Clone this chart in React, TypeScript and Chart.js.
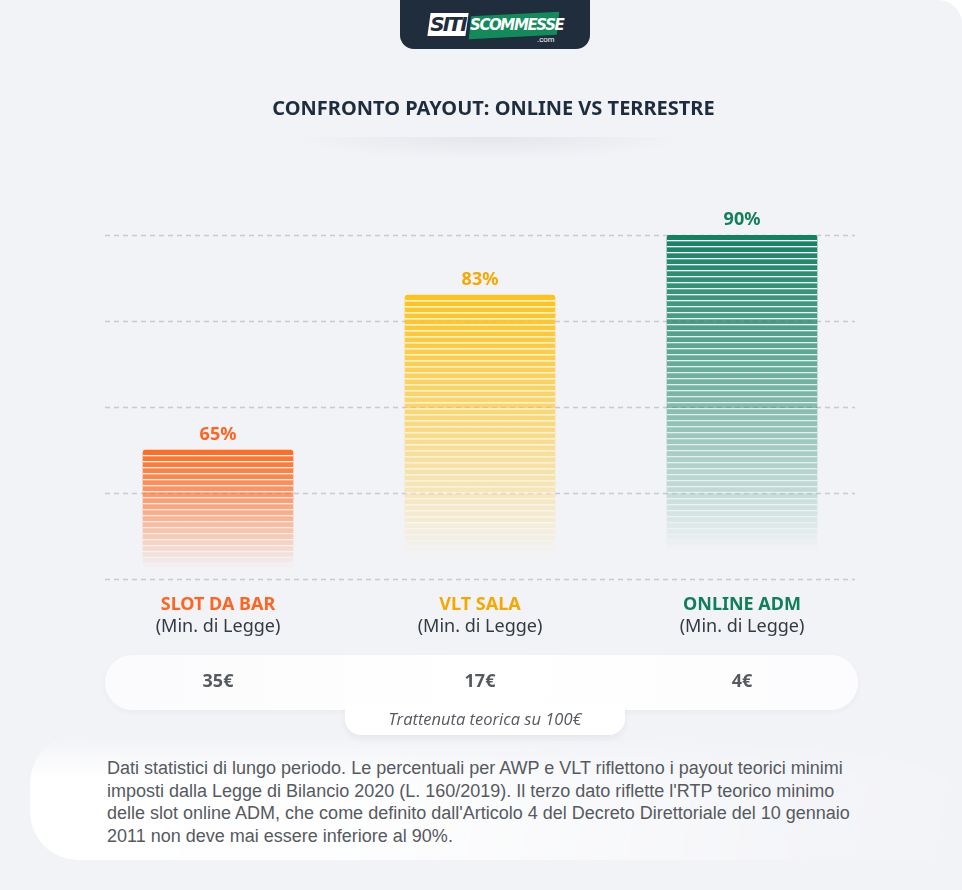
import React, { useEffect, useRef } from "react";
import { Chart, registerables } from "chart.js";

Chart.register(...registerables);

const categories = ["SLOT DA BAR", "VLT SALA", "ONLINE ADM"];
const subLabels = ["(Min. di Legge)", "(Min. di Legge)", "(Min. di Legge)"];
const payout = [65, 83, 90];
const retention = [35, 17, 4];
const barColors = ["#ff6a21", "#ffc21c", "#138060"];
const textColors = ["#ff6420", "#f5a800", "#11805a"];
const yMin = 50;
const yMax = 90;
const yStep = 10;

const title = "CONFRONTO PAYOUT: ONLINE VS TERRESTRE";
const retentionCaption = "Trattenuta teorica su 100€";
const footnote =
  "Dati statistici di lungo periodo. Le percentuali per AWP e VLT riflettono i payout teorici minimi imposti dalla Legge di Bilancio 2020 (L. 160/2019). Il terzo dato riflette l'RTP teorico minimo delle slot online ADM, che come definito dall'Articolo 4 del Decreto Direttoriale del 10 gennaio 2011 non deve mai essere inferiore al 90%.";

function rgba(hex: string, a: number) {
  const n = parseInt(hex.slice(1), 16);
  return `rgba(${(n >> 16) & 255},${(n >> 8) & 255},${n & 255},${a})`;
}

const FONT = "'Noto Sans', 'Open Sans', sans-serif";

const overlayPlugin = {
  id: "overlay",
  beforeDatasetsDraw(chart: any) {
    const { ctx, scales } = chart;
    const y = scales.y;
    ctx.save();
    ctx.strokeStyle = "rgba(150,155,165,0.45)";
    ctx.lineWidth = 1.5;
    ctx.setLineDash([5, 4]);
    y.ticks.forEach((t: any) => {
      const py = Math.round(y.getPixelForValue(t.value)) + 0.5;
      ctx.beginPath();
      ctx.moveTo(105, py);
      ctx.lineTo(855, py);
      ctx.stroke();
    });
    ctx.restore();
  },
  afterDatasetsDraw(chart: any) {
    const { ctx, scales, chartArea } = chart;
    const meta = chart.getDatasetMeta(0);
    ctx.save();
    meta.data.forEach((bar: any, i: number) => {
      const p = bar.getProps(["x", "y", "width", "base"], true);
      const left = p.x - p.width / 2;
      const bottom = Math.min(p.base, chartArea.bottom);
      const g = ctx.createLinearGradient(0, p.y, 0, bottom);
      g.addColorStop(0, "rgba(255,255,255,1)");
      g.addColorStop(0.8, "rgba(255,255,255,0.6)");
      g.addColorStop(0.95, "rgba(255,255,255,0)");
      ctx.fillStyle = g;
      for (let yy = p.y + 5; yy < bottom - 10; yy += 6) {
        ctx.fillRect(left, yy, p.width, 1.3);
      }
      ctx.fillStyle = textColors[i];
      ctx.font = `bold 18px ${FONT}`;
      ctx.textAlign = "center";
      ctx.textBaseline = "middle";
      ctx.fillText(`${payout[i]}%`, p.x, p.y - 15);
    });
    const x = scales.x;
    categories.forEach((c, i) => {
      const px = x.getPixelForValue(i);
      ctx.textAlign = "center";
      ctx.textBaseline = "middle";
      ctx.fillStyle = textColors[i];
      ctx.font = `bold 18px ${FONT}`;
      ctx.fillText(c, px, 605);
      ctx.fillStyle = "#333a42";
      ctx.font = `18px ${FONT}`;
      ctx.fillText(subLabels[i], px, 627);
      ctx.fillStyle = "#555a60";
      ctx.font = `bold 18px ${FONT}`;
      ctx.fillText(`${retention[i]}€`, px, 682);
    });
    ctx.restore();
  },
};

function ChartCanvas() {
  const ref = useRef<HTMLCanvasElement | null>(null);
  useEffect(() => {
    if (!ref.current) return;
    const chart = new Chart(ref.current, {
      type: "bar",
      data: {
        labels: categories,
        datasets: [
          {
            data: payout,
            base: yMin,
            barThickness: 150,
            borderRadius: { topLeft: 3, topRight: 3, bottomLeft: 0, bottomRight: 0 },
            borderSkipped: "bottom",
            backgroundColor: (ctx: any) => {
              const chart = ctx.chart;
              const c = barColors[ctx.dataIndex] || barColors[0];
              if (!chart.chartArea || !chart.scales.y || ctx.raw == null) return c;
              const y = chart.scales.y;
              const top = y.getPixelForValue(ctx.raw);
              const bottom = y.getPixelForValue(y.min);
              const g = chart.ctx.createLinearGradient(0, top, 0, bottom);
              g.addColorStop(0, rgba(c, 1));
              g.addColorStop(0.45, rgba(c, 0.55));
              g.addColorStop(0.92, rgba(c, 0));
              g.addColorStop(1, rgba(c, 0));
              return g;
            },
          } as any,
        ],
      },
      options: {
        animation: false,
        responsive: false,
        maintainAspectRatio: false,
        layout: { padding: { left: 87, right: 89, top: 235, bottom: 141 } },
        plugins: { legend: { display: false }, tooltip: { enabled: false } },
        scales: {
          x: { display: false },
          y: { display: false, min: yMin, max: yMax, ticks: { stepSize: yStep } },
        },
      },
      plugins: [overlayPlugin],
    });
    return () => chart.destroy();
  }, []);
  return (
    <canvas
      ref={ref}
      width={962}
      height={720}
      style={{ position: "absolute", left: 0, top: 0, width: 962, height: 720, zIndex: 2 }}
    />
  );
}

export default function App() {
  const fadeMask = "linear-gradient(to bottom, rgba(0,0,0,0) 0%, rgba(0,0,0,1) 35%)";
  return (
    <div
      style={{
        position: "fixed",
        left: 0,
        top: 0,
        width: 962,
        height: 890,
        background: "#ffffff",
        overflow: "hidden",
      }}
    >
      <div
        style={{
          position: "absolute",
          inset: 0,
          background: "#f2f3f7",
          borderTopRightRadius: 24,
        }}
      />
      {/* logo tab */}
      <div
        style={{
          position: "absolute",
          left: 400,
          top: 0,
          width: 190,
          height: 49,
          background: "#1f2d3d",
          borderBottomLeftRadius: 14,
          borderBottomRightRadius: 14,
          zIndex: 3,
        }}
      >
        <div
          style={{
            position: "absolute",
            left: 29,
            top: 13,
            width: 38,
            height: 23,
            background: "#ffffff",
            transform: "skewX(-8deg)",
          }}
        />
        <div
          style={{
            position: "absolute",
            left: 28,
            top: 12,
            width: 40,
            height: 24,
            color: "#1f2d3d",
            font: "italic 900 20px 'DejaVu Sans', sans-serif",
            letterSpacing: -1.8,
            textAlign: "center",
            lineHeight: "24px",
          }}
        >
          SITI
        </div>
        <div
          style={{
            position: "absolute",
            left: 70,
            top: 14,
            width: 88,
            height: 23,
            background: "#138a5a",
            transform: "skewY(-3deg) skewX(-6deg)",
          }}
        />
        <div
          style={{
            position: "absolute",
            left: 70,
            top: 14,
            width: 88,
            height: 23,
            color: "#ffffff",
            font: "italic 900 15px 'DejaVu Sans', sans-serif",
            letterSpacing: -1.4,
            textAlign: "center",
            lineHeight: "23px",
          }}
        >
          SCOMMESSE
        </div>
        <div
          style={{
            position: "absolute",
            left: 137,
            top: 35,
            color: "#ffffff",
            font: "8px 'Liberation Sans', sans-serif",
          }}
        >
          .com
        </div>
      </div>
      {/* title */}
      <div
        style={{
          position: "absolute",
          left: 0,
          top: 94,
          width: 987,
          textAlign: "center",
          font: `bold 20px ${FONT}`,
          color: "#1e2d3d",
          lineHeight: "28px",
          zIndex: 3,
        }}
      >
        {title}
      </div>
      <div
        style={{
          position: "absolute",
          left: 290,
          top: 137,
          width: 400,
          height: 22,
          background:
            "radial-gradient(ellipse 50% 100% at 50% 0%, rgba(40,50,70,0.07), rgba(40,50,70,0) 100%)",
        }}
      />
      {/* retention pill */}
      <div
        style={{
          position: "absolute",
          left: 105,
          top: 655,
          width: 753,
          height: 55,
          borderRadius: 28,
          background: "linear-gradient(90deg, #fbfbfd 0%, #ffffff 50%, #fcfcfe 100%)",
          boxShadow: "0 2px 6px rgba(30,40,60,0.04)",
          zIndex: 1,
        }}
      />
      <div
        style={{
          position: "absolute",
          left: 345,
          top: 703,
          width: 280,
          height: 32,
          borderBottomLeftRadius: 16,
          borderBottomRightRadius: 16,
          background: "#ffffff",
          boxShadow: "0 4px 6px rgba(30,40,60,0.05)",
          zIndex: 3,
          textAlign: "center",
          font: `italic 16.5px 'Open Sans', ${FONT}`,
          color: "#555a60",
          lineHeight: "32px",
        }}
      >
        {retentionCaption}
      </div>
      {/* footnote panel */}
      <div
        style={{
          position: "absolute",
          left: 30,
          top: 735,
          width: 980,
          height: 125,
          borderRadius: 48,
          background:
            "linear-gradient(100deg, rgba(255,255,255,1) 0%, rgba(255,255,255,0.85) 35%, rgba(255,255,255,0.2) 80%, rgba(255,255,255,0) 100%)",
          WebkitMaskImage: fadeMask,
          maskImage: fadeMask,
        }}
      />
      <div
        style={{
          position: "absolute",
          left: 107,
          top: 757,
          width: 760,
          font: "18px 'Liberation Sans', Arial, sans-serif",
          lineHeight: "22.5px",
          color: "#555a5f",
          zIndex: 3,
        }}
      >
        {footnote}
      </div>
      <ChartCanvas />
    </div>
  );
}
